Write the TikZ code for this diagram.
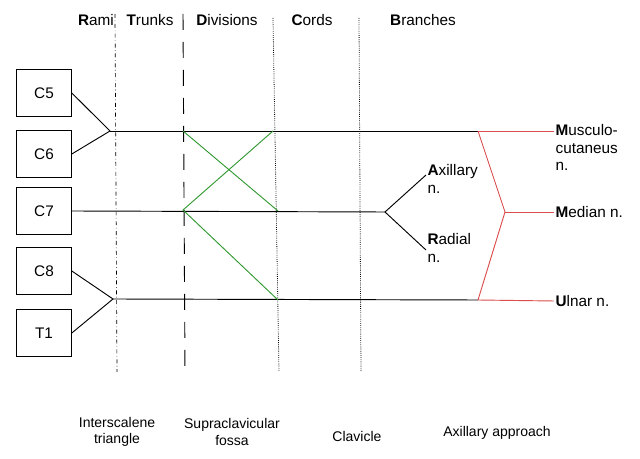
\documentclass[tikz,border=0pt]{standalone}
\usepackage{fontspec}
\setmainfont{Liberation Sans}
\begin{document}
\begin{tikzpicture}[x=0.75pt,y=-0.75pt,font=\fontsize{11.5}{13}\selectfont,
 box/.style={draw,line width=0.7pt,minimum width=41pt,minimum height=35pt,inner sep=0pt},
 nerve/.style={line width=0.7pt},
 div/.style={draw=green!50!black!80,line width=0.7pt},
 red/.style={draw=red!80!black!70,line width=0.7pt},
 lbl/.style={anchor=west,align=left,inner sep=1pt}]
\useasboundingbox (0,0) rectangle (640,459);
% boxes
\node[box] (c5) at (44,93) {C5};
\node[box] (c6) at (44,154) {C6};
\node[box] (c7) at (44,211) {C7};
\node[box] (c8) at (44,271) {C8};
\node[box] (t1) at (44,333) {T1};
% header
\node (h1) at (96,20) {\textbf{R}ami};
\node (h2) at (150,20) {\textbf{T}runks};
\node (h3) at (227,20) {\textbf{D}ivisions};
\node (h4) at (312,20) {\textbf{C}ords};
\node (h5) at (423,20) {\textbf{B}ranches};
% vertical lines
\draw[dash dot,line width=0.5pt] (115,14) -- (117,372);
\draw[dash pattern=on 12pt off 9pt,line width=0.7pt] (183,14) -- (185,372);
\draw[densely dotted,line width=0.6pt] (273,18) -- (279,372);
\draw[densely dotted,line width=0.6pt] (359,18) -- (361,372);
% coordinates
\coordinate (j1) at (110,131);
\coordinate (j2) at (113,299);
\coordinate (d1) at (183,131);
\coordinate (d2) at (183,210);
\coordinate (k1) at (273,131);
\coordinate (k2) at (278,211);
\coordinate (k3) at (278,300);
\coordinate (b1) at (385,212);
\coordinate (r1) at (478,131);
\coordinate (r2) at (505,212);
\coordinate (r3) at (478,300);
% labels right
\node[lbl,anchor=north west] (mc) at (554,123) {\textbf{M}usculo-\\cutaneus\\n.};
\node[lbl] (md) at (554,212) {\textbf{M}edian n.};
\node[lbl] (ul) at (554,301) {\textbf{U}lnar n.};
\node[lbl,anchor=north west] (ax) at (426,163) {\textbf{A}xillary\\n.};
\node[lbl,anchor=north west] (ra) at (426,232) {\textbf{R}adial\\n.};
\coordinate (axe) at (426,175);
\coordinate (rae) at (426,250);
% nerves
\draw[nerve] (c5.east) -- (j1) -- (c6.east);
\draw[nerve] (c8.east) -- (j2) -- (t1.east);
\draw[nerve] (j1) -- (r1);
\draw[nerve] (c7.east) -- (b1);
\draw[nerve] (j2) -- (r3);
\draw[nerve] (axe) -- (b1) -- (rae);
\draw[div] (d1) -- (k2);
\draw[div] (k1) -- (d2) -- (k3);
\draw[red] (r1) -- (mc.west |- r1);
\draw[red] (r1) -- (r2) -- (r3) -- (ul.west);
\draw[red] (r2) -- (md.west);
% bottom
\node[align=center,font=\fontsize{10.5}{12.5}\selectfont] (bt1) at (117,432) {Interscalene\\triangle};
\node[align=center,font=\fontsize{10.5}{12.5}\selectfont] (bt2) at (232,432) {Supraclavicular\\fossa};
\node[font=\fontsize{10.5}{12.5}\selectfont] (bt3) at (357,436) {Clavicle};
\node[font=\fontsize{10.5}{12.5}\selectfont] (bt4) at (497,433) {Axillary approach};
\end{tikzpicture}
\end{document}
